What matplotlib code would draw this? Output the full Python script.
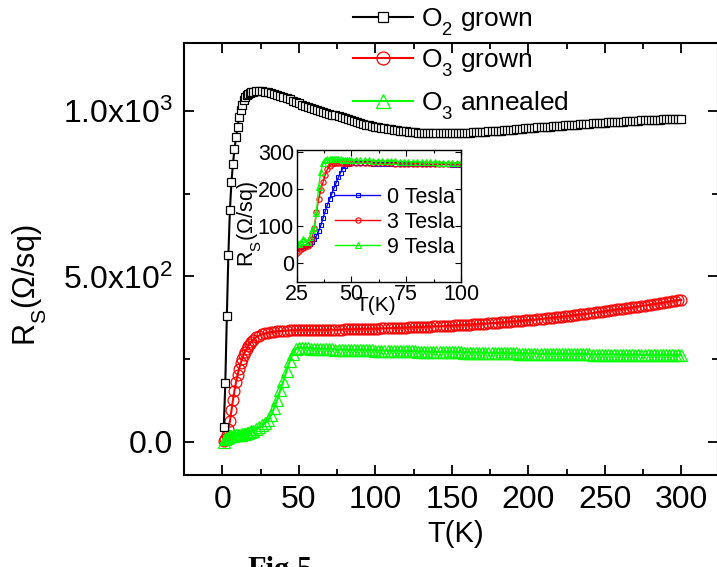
import matplotlib
matplotlib.use('Agg')
import matplotlib.pyplot as plt
import matplotlib._mathtext as mathtext_internals
from matplotlib.ticker import FixedLocator, MultipleLocator

plt.rcParams.update({
    'font.family': ['Liberation Sans', 'DejaVu Sans'],
    'mathtext.fontset': 'custom',
    'mathtext.rm': 'Liberation Sans',
    'mathtext.it': 'Liberation Sans:italic',
    'mathtext.bf': 'Liberation Sans:bold',
})
# drop subscripts a bit lower than the mathtext default
mathtext_internals.FontConstantsBase.sub1 = 0.7

# main panel: sheet resistance vs temperature
temp = [1, 2, 3, 4, 5, 6, 7, 8, 9, 10,
        11, 12, 13, 14, 15, 16, 17, 18, 19, 20,
        22, 24, 26, 28, 30, 32, 34, 36, 38, 40,
        42, 44, 46, 48, 50, 52, 54, 56, 58, 60,
        62, 64, 66, 68, 70, 72, 74, 76, 78, 80,
        82, 84, 86, 88, 90, 92, 94, 96, 98, 100,
        102, 104, 106, 108, 110, 112, 114, 116, 118, 120,
        122, 124, 126, 128, 130, 132, 134, 136, 138, 140,
        142, 144, 146, 148, 150, 152, 154, 156, 158, 160,
        162, 164, 166, 168, 170, 172, 174, 176, 178, 180,
        182, 184, 186, 188, 190, 192, 194, 196, 198, 200,
        202, 204, 206, 208, 210, 212, 214, 216, 218, 220,
        222, 224, 226, 228, 230, 232, 234, 236, 238, 240,
        242, 244, 246, 248, 250, 252, 254, 256, 258, 260,
        262, 264, 266, 268, 270, 272, 274, 276, 278, 280,
        282, 284, 286, 288, 290, 292, 294, 296, 298, 300]

o2_grown = [45, 178, 380, 565, 700, 785, 840, 885, 920, 952,
            980, 1002, 1019, 1032, 1041, 1047, 1051, 1054, 1056, 1057,
            1059, 1060, 1059, 1058, 1056, 1054, 1051, 1048, 1045, 1042,
            1038, 1035, 1031, 1027, 1023, 1019, 1015, 1012, 1009, 1006,
            1003, 1000, 997, 995, 992, 989, 986, 983, 980, 977,
            974, 971, 968, 965, 963, 960, 958, 956, 954, 952,
            950, 948, 947, 945, 944, 942, 941, 940, 939, 938,
            937, 936, 935, 934, 934, 933, 933, 932, 932, 932,
            932, 932, 932, 932, 932, 932, 933, 933, 933, 934,
            934, 935, 935, 936, 936, 937, 938, 938, 939, 940,
            940, 941, 942, 943, 943, 944, 945, 946, 947, 948,
            948, 949, 950, 950, 951, 952, 952, 953, 954, 954,
            955, 956, 956, 957, 958, 958, 959, 960, 960, 961,
            962, 962, 963, 964, 964, 965, 965, 966, 966, 967,
            967, 968, 968, 969, 970, 970, 971, 971, 972, 972,
            972, 973, 973, 974, 974, 974, 975, 975, 976, 976]

o3_grown = [2, 8, 22, 40, 62, 95, 127, 155, 180, 202,
            221, 237, 251, 263, 273, 282, 290, 297, 303, 308,
            316, 321, 325, 328, 330, 332, 333, 334, 335, 336,
            336, 337, 337, 337, 338, 338, 338, 338, 338, 338,
            338, 338, 338, 338, 339, 339, 339, 339, 339, 340,
            340, 340, 340, 341, 341, 341, 341, 342, 342, 342,
            342, 343, 343, 343, 344, 344, 344, 345, 345, 345,
            346, 346, 346, 347, 347, 347, 348, 348, 349, 349,
            349, 350, 350, 351, 351, 352, 352, 353, 353, 354,
            354, 355, 355, 356, 357, 357, 358, 359, 359, 360,
            361, 361, 362, 363, 364, 364, 365, 366, 367, 368,
            369, 369, 370, 371, 372, 373, 374, 375, 376, 377,
            378, 379, 380, 381, 383, 384, 385, 386, 387, 388,
            389, 391, 392, 393, 394, 396, 397, 398, 400, 401,
            402, 404, 405, 406, 408, 409, 411, 412, 413, 415,
            416, 418, 419, 421, 422, 424, 425, 427, 428, 429]

o3_annealed = [0, 8, 13, 16, 17, 18, 19, 20, 20, 21,
               21, 22, 23, 24, 25, 27, 28, 30, 32, 34,
               38, 44, 50, 57, 66, 82, 103, 128, 156, 185,
               214, 243, 267, 280, 285, 284, 283, 283, 282, 282,
               281, 281, 281, 280, 280, 280, 279, 279, 279, 279,
               278, 278, 278, 278, 278, 277, 277, 277, 277, 276,
               276, 276, 276, 276, 275, 275, 275, 275, 275, 274,
               274, 274, 274, 273, 273, 273, 273, 272, 272, 272,
               272, 272, 272, 271, 271, 271, 271, 271, 270, 270,
               270, 270, 270, 270, 269, 269, 269, 269, 269, 269,
               268, 268, 268, 268, 268, 268, 267, 267, 267, 267,
               267, 267, 267, 266, 266, 266, 266, 266, 266, 266,
               266, 265, 265, 265, 265, 265, 265, 265, 265, 265,
               264, 264, 264, 264, 264, 264, 264, 264, 264, 263,
               263, 263, 263, 263, 263, 263, 263, 263, 263, 263,
               262, 262, 262, 262, 262, 262, 262, 262, 262, 262]

# inset: field dependence of the transition
temp_in = [25, 26, 27, 28, 29, 30, 31, 32, 33, 34,
           35, 36, 37, 38, 39, 40, 41, 42, 43, 44,
           45, 46, 47, 48, 49, 50,
           52, 54, 56, 58, 60, 62, 64, 66, 68, 70,
           72, 74, 76, 78, 80, 82, 84, 86, 88, 90,
           92, 94, 96, 98, 100]

r_0T = [42, 43, 44, 45, 46, 48, 52, 57, 65, 74,
        86, 102, 121, 140, 157, 172, 187, 202, 217, 231,
        244, 255, 263, 267, 268, 269,
        269, 269, 269, 269, 268, 268, 268, 268, 268, 267,
        267, 267, 267, 267, 267, 266, 266, 266, 266, 266,
        266, 266, 265, 265, 265]

r_3T = [28, 33, 37, 41, 44, 47, 52, 65, 95, 137,
        172, 196, 218, 238, 253, 262, 267, 269, 270, 270,
        270, 270, 270, 270, 270, 270,
        270, 270, 270, 269, 269, 269, 269, 269, 269, 268,
        268, 268, 268, 268, 268, 267, 267, 267, 267, 267,
        267, 266, 266, 266, 266]

r_9T = [55, 52, 58, 66, 60, 57, 70, 90, 94, 135,
        205, 246, 270, 277, 280, 281, 281, 281, 280, 280,
        280, 279, 279, 279, 278, 278,
        278, 277, 277, 277, 276, 276, 276, 275, 275, 275,
        274, 274, 274, 273, 273, 273, 272, 272, 272, 271,
        271, 271, 270, 270, 270]

W, H = 717, 567
fig = plt.figure(figsize=(W / 100, H / 100), dpi=100)
ax = fig.add_axes([184 / W, 1 - 475 / H, 534 / W, 432 / H])

l_red, = ax.plot(temp, o3_grown, '-o', color='#ff0000', mfc='none', mec='#ff0000',
                 ms=7.8, mew=0.9, lw=1.5, zorder=2, label='O$_3$ grown')
l_grn, = ax.plot(temp, o3_annealed, '-^', color='#00ff00', mfc='none', mec='#00ff00',
                 ms=8, mew=0.9, lw=1.5, zorder=3, label='O$_3$ annealed')
l_blk, = ax.plot(temp, o2_grown, '-s', color='black', mfc='white', mec='black',
                 ms=6, mew=0.9, lw=1.5, zorder=4, label='O$_2$ grown')

ax.set_xlim(-25, 324)
ax.set_ylim(-100, 1205)
ax.xaxis.set_major_locator(FixedLocator([0, 50, 100, 150, 200, 250, 300]))
ax.xaxis.set_minor_locator(MultipleLocator(25))
ax.yaxis.set_major_locator(FixedLocator([0, 500, 1000]))
ax.yaxis.set_minor_locator(FixedLocator([250, 750]))
ax.set_yticklabels(['0.0', '5.0x10$^2$', '1.0x10$^3$'])
ax.tick_params(which='both', direction='in', top=True, right=True, width=1.3)
ax.tick_params(which='major', length=7, labelsize=23)
ax.tick_params(axis='x', which='major', pad=7)
ax.tick_params(axis='y', which='major', pad=8)
ax.tick_params(which='minor', length=4)
for s in ax.spines.values():
    s.set_linewidth(1.5)

ax.set_xlabel('T(K)', fontsize=21)
ax.xaxis.set_label_coords(0.509, -0.104)
ax.set_ylabel('R$_\\mathrm{S}$(Ω/sq)', fontsize=22)
ax.yaxis.set_label_coords(-0.252, 0.44)

leg = ax.legend(handles=[l_blk, l_red, l_grn], loc='upper left',
                bbox_to_anchor=(353 / W, 1 - 6 / H), bbox_transform=fig.transFigure,
                frameon=False, fontsize=19, handlelength=2.27, handletextpad=0.3,
                labelspacing=0.37, borderpad=0, borderaxespad=0, markerscale=1.2)

# inset
axi = fig.add_axes([296.7 / W, 1 - 281.7 / H, 164.3 / W, 131.7 / H])
b0, = axi.plot(temp_in, r_0T, '-s', color='#0000ff', mfc='none', mec='#0000ff',
               ms=3.5, mew=0.8, lw=1, label='0 Tesla')
b3, = axi.plot(temp_in, r_3T, '-o', color='#ff0000', mfc='none', mec='#ff0000',
               ms=3.8, mew=0.8, lw=1, label='3 Tesla')
b9, = axi.plot(temp_in, r_9T, '-^', color='#00ff00', mfc='none', mec='#00ff00',
               ms=4, mew=0.8, lw=1, label='9 Tesla')
axi.set_xlim(25, 100)
axi.set_ylim(-50, 305)
axi.xaxis.set_major_locator(FixedLocator([25, 50, 75, 100]))
axi.xaxis.set_minor_locator(MultipleLocator(12.5))
axi.yaxis.set_major_locator(FixedLocator([0, 100, 200, 300]))
axi.tick_params(which='both', direction='in', top=True, right=True, width=0.8)
axi.tick_params(which='major', length=4, labelsize=15.5, pad=2)
axi.tick_params(which='minor', length=2)
for s in axi.spines.values():
    s.set_linewidth(1)
axi.set_xlabel('T(K)', fontsize=15)
axi.xaxis.set_label_coords(0.48, -0.11)
axi.set_ylabel('R$_\\mathrm{S}$(Ω/sq)', fontsize=15.5)
axi.yaxis.set_label_coords(-0.2, 0.44)
axi.legend(handles=[b0, b3, b9], loc='upper left',
           bbox_to_anchor=(335 / W, 1 - 187 / H), bbox_transform=fig.transFigure,
           frameon=False, fontsize=15.5, handlelength=2.1, handletextpad=0.3,
           labelspacing=0.18, borderpad=0, borderaxespad=0)

fig.text(247 / W, 1 - 556 / H, 'Fig.5', family='Liberation Serif',
         weight='bold', fontsize=22, va='top')

fig.savefig('out.png', dpi=100)
